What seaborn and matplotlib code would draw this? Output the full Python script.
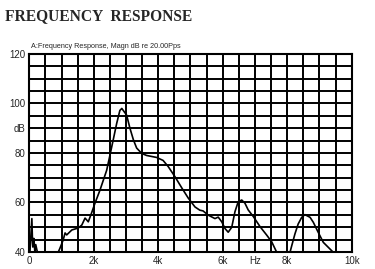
import matplotlib
matplotlib.use("Agg")
import matplotlib.pyplot as plt
import seaborn as sns
import numpy as np
import pandas as pd

# Frequency (Hz) and magnitude (dB)
freq_hz = [0, 20, 80, 100, 110, 140, 170, 200, 250, 300, 500, 700, 900,
           950, 1050, 1110, 1160, 1320, 1520, 1630, 1730, 1830, 1930, 2040,
           2190, 2400, 2500, 2600, 2710, 2810, 2870, 3020, 3120, 3230, 3330,
           3490, 3640, 3950, 4150, 4310, 4520, 4730, 4930, 5140, 5290, 5390,
           5550, 5760, 5860, 5970, 6070, 6170, 6280, 6380, 6480, 6590, 6690,
           6790, 6950, 7160, 7360, 7520, 7670, 7800, 8000, 8090, 8140, 8240,
           8340, 8450, 8550, 8710, 8810, 8960, 9120, 9420, 9600, 10000]
mag_db = [40, 40, 53.5, 44, 42, 45.5, 40.5, 43, 40, 40, 40, 40, 40,
          41.5, 44.8, 47.7, 46.9, 48.9, 49.7, 50.9, 53.7, 52.2, 55.7, 59.8,
          64.9, 73, 79, 85.1, 91.9, 97.2, 98.0, 95.3, 90.1, 85.3, 82,
          79.8, 79.0, 78.2, 77, 74.5, 70.4, 65.9, 61.8, 58.2, 56.9, 56.6,
          54.9, 53.5, 54.1, 52.2, 49.5, 48.0, 50, 56.3, 60.3, 61.0, 59.7,
          57.0, 54.3, 50.2, 46.9, 44.1, 40, 40, 40, 40, 42.5, 47.3,
          51.3, 54, 55.1, 54, 52, 48, 43.9, 40, 36, 36]

x_tick_pos = [0, 2000, 4000, 6000, 7000, 8000, 10000]
x_tick_lab = ["0", "2k", "4k", "6k", "Hz", "8k", "10k"]
y_tick_pos = [40, 60, 80, 90, 100, 120]
y_tick_lab = ["40", "60", "80", "dB", "100", "120"]

df = pd.DataFrame({"freq": freq_hz, "mag": mag_db})

sns.set_style("white")
plt.rcParams['font.family'] = ['Liberation Sans', 'DejaVu Sans']

fig = plt.figure(figsize=(3.75, 2.69), dpi=100)
ax = fig.add_axes([0.0781, 0.0632, 0.8597, 0.7361])

sns.lineplot(data=df, x="freq", y="mag", ax=ax, color="black", linewidth=1.2)

ax.set_xlim(0, 10000)
ax.set_ylim(40, 120)
for v in np.arange(500, 10000, 500):
    ax.axvline(v, color="black", linewidth=1.4, zorder=0)
for v in np.arange(45, 120, 5):
    ax.axhline(v, color="black", linewidth=1.4, zorder=0)

ax.set_xticks(x_tick_pos)
ax.set_xticklabels(x_tick_lab, fontsize=7)
ax.set_yticks(y_tick_pos)
ax.set_yticklabels(y_tick_lab, fontsize=7)
ax.tick_params(axis="both", length=0, pad=3)
ax.set_xlabel("")
ax.set_ylabel("")
for s in ax.spines.values():
    s.set_color("black")
    s.set_linewidth(1.5)

fig.text(0.013, 0.94, "FREQUENCY  RESPONSE", fontsize=11.2, fontweight="bold",
         family="Liberation Serif", ha="left", va="center")
fig.text(0.082, 0.827, "A:Frequency Response, Magn dB re 20.00Pps",
         fontsize=5.2, ha="left", va="center")

fig.savefig("out.png", dpi=100)
